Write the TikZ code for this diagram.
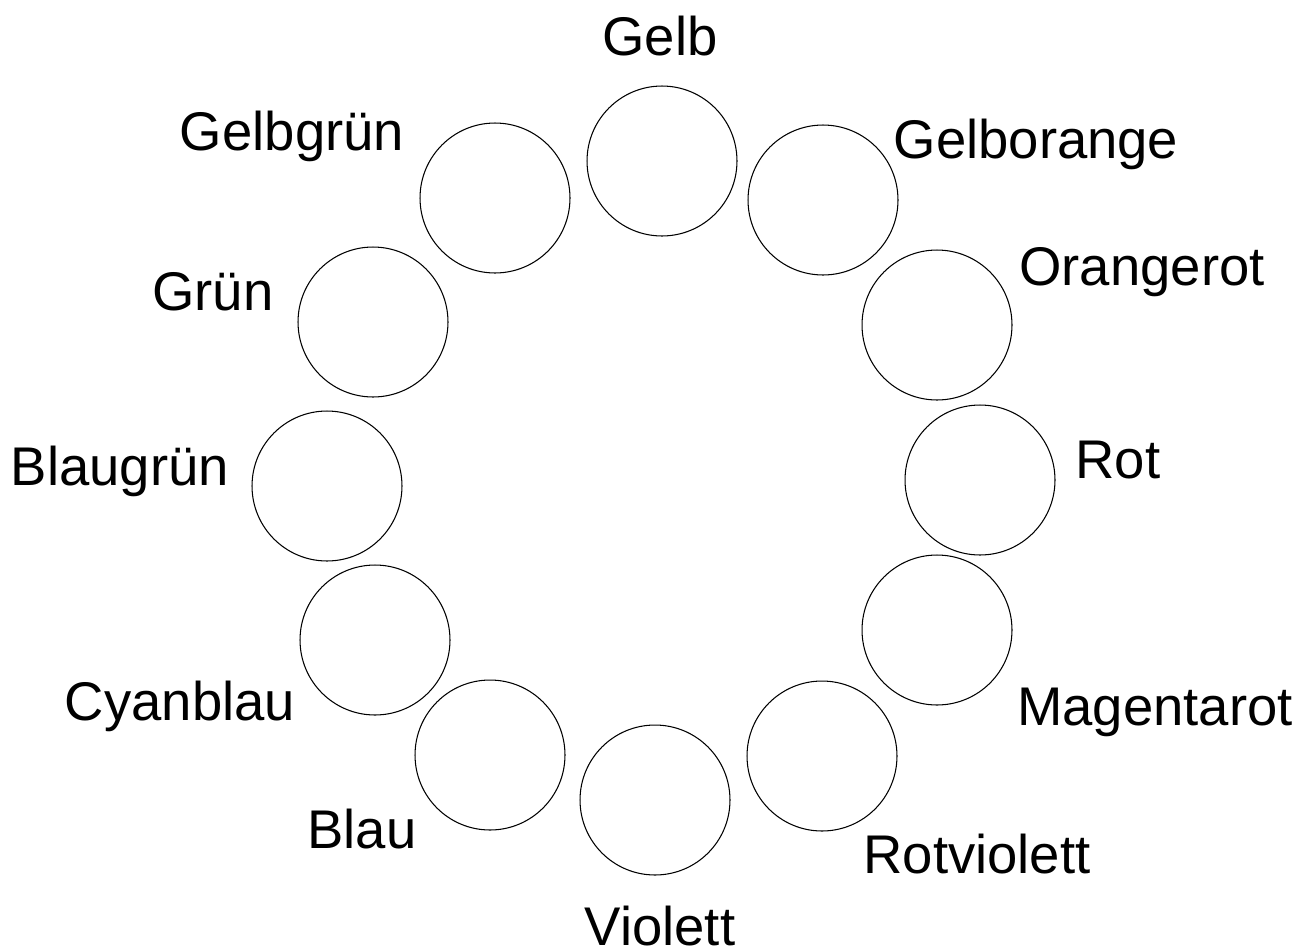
\documentclass[tikz,border=0pt]{standalone}
\usepackage{fontspec}
\setmainfont{Liberation Sans}
\usetikzlibrary{positioning}

\begin{document}
\begin{tikzpicture}[
    x=0.02cm, y=-0.02cm,
    hue/.style={circle, draw, line width=0.6pt, minimum size=3cm, inner sep=0pt},
    colname/.style={anchor=base, inner sep=0pt, font=\fontsize{31}{37}\selectfont}
]
\useasboundingbox (0,0) rectangle (1301,947);
% the twelve circles
\foreach \nm/\x/\y in {gelb/662/161, gelborange/823/200, orangerot/937/325,
    rot/980/480, magentarot/937/630, rotviolett/822/756, violett/655/800,
    blau/490/755, cyanblau/375/640, blaugruen/327/486, gruen/373/322,
    gelbgruen/495/198}
  \node (\nm) [hue] at (\x,\y) {};
% names
\node (tgelb) [colname] at (660,55) {Gelb};
\node (tgelborange) [colname] at (1036,158) {Gelborange};
\node (torangerot) [colname] at (1142,285) {Orangerot};
\node (trot) [colname] at (1118,478) {Rot};
\node (tmagentarot) [colname] at (1155,725) {Magentarot};
\node (trotviolett) [colname] at (977,873) {Rotviolett};
\node (tviolett) [colname] at (660,945) {Violett};
\node (tblau) [colname] at (362,848) {Blau};
\node (tcyanblau) [colname] at (180,720) {Cyanblau};
\node (tblaugruen) [colname] at (120,485) {Blaugrün};
\node (tgruen) [colname] at (213,310) {Grün};
\node (tgelbgruen) [colname] at (292,150) {Gelbgrün};
\end{tikzpicture}
\end{document}
